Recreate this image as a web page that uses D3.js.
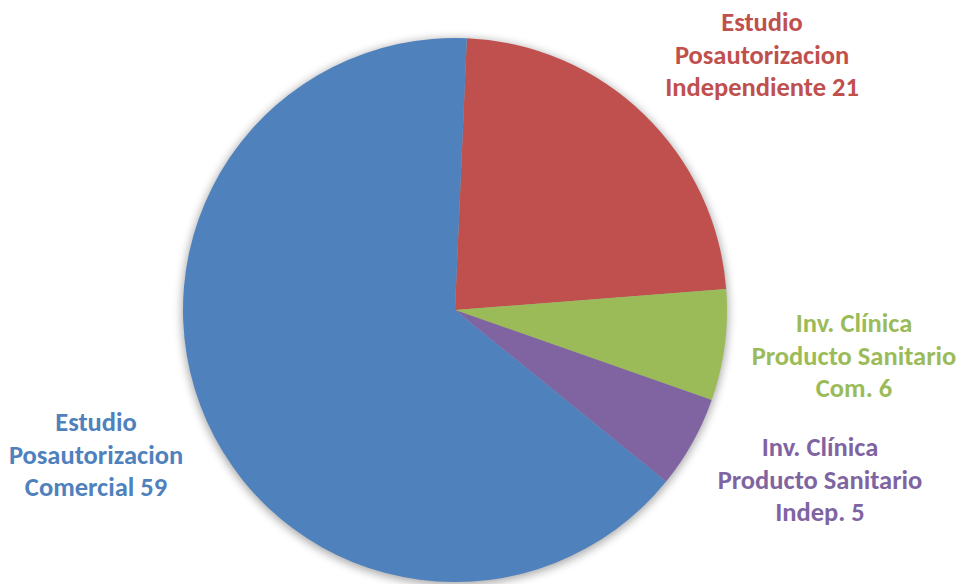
<!DOCTYPE html>
<html>
<head>
<meta charset="utf-8">
<script src="https://cdn.jsdelivr.net/npm/d3@7"></script>
<style>
  body { margin: 0; background: #fff; }
  svg { display: block; }
</style>
</head>
<body>
<div id="chart-area"></div>
<script>
var categories = [
  "Estudio Posautorizacion Independiente",
  "Inv. Clínica Producto Sanitario Com.",
  "Inv. Clínica Producto Sanitario Indep.",
  "Estudio Posautorizacion Comercial"
];
var values = [21, 6, 5, 59];
var labelLines = [
  ["Estudio", "Posautorizacion", "Independiente 21"],
  ["Inv. Clínica", "Producto Sanitario", "Com. 6"],
  ["Inv. Clínica", "Producto Sanitario", "Indep. 5"],
  ["Estudio", "Posautorizacion", "Comercial 59"]
];
var colors = ["#C0504D", "#9BBB59", "#8064A2", "#4F81BD"];

var width = 961;
var height = 584;
var cx = 455, cy = 310, radius = 272;

// where each label block sits (centre x, first line y)
var labelPos = [
  { x: 762, y: 22 },
  { x: 854, y: 323 },
  { x: 820, y: 447 },
  { x: 96, y: 422 }
];
var lineGap = 32.5;

var svg = d3.select("#chart-area")
  .append("svg")
  .attr("width", width)
  .attr("height", height);

var defs = svg.append("defs");
var filter = defs.append("filter")
  .attr("id", "shadow")
  .attr("x", "-20%").attr("y", "-20%")
  .attr("width", "140%").attr("height", "140%");
filter.append("feGaussianBlur").attr("stdDeviation", 5);

var g = svg.append("g")
  .attr("transform", "translate(" + cx + "," + cy + ")");

g.append("circle")
  .attr("cx", 0)
  .attr("cy", 2)
  .attr("r", radius + 1)
  .attr("fill", "#000")
  .attr("opacity", 0.35)
  .attr("filter", "url(#shadow)");

var data = categories.map(function(c, i) {
  return { name: c, value: values[i], color: colors[i], lines: labelLines[i] };
});

var pie = d3.pie()
  .sort(null)
  .value(function(d) { return d.value; })
  .startAngle(2.5 * Math.PI / 180)
  .endAngle(2.5 * Math.PI / 180 + 2 * Math.PI);

var arc = d3.arc()
  .innerRadius(0)
  .outerRadius(radius);

g.selectAll("path.slice")
  .data(pie(data))
  .enter()
  .append("path")
  .attr("class", "slice")
  .attr("d", arc)
  .attr("fill", function(d) { return d.data.color; });

var labels = svg.selectAll("text.label")
  .data(data)
  .enter()
  .append("text")
  .attr("class", "label")
  .attr("text-anchor", "middle")
  .attr("font-family", "Carlito, Calibri, 'Open Sans', sans-serif")
  .attr("font-weight", "bold")
  .attr("font-size", 26.5)
  .attr("fill", function(d) { return d.color; });

labels.each(function(d, i) {
  var t = d3.select(this);
  d.lines.forEach(function(line, j) {
    t.append("tspan")
      .attr("x", labelPos[i].x)
      .attr("y", labelPos[i].y + j * lineGap)
      .attr("dy", "0.35em")
      .text(line);
  });
});
</script>
</body>
</html>
